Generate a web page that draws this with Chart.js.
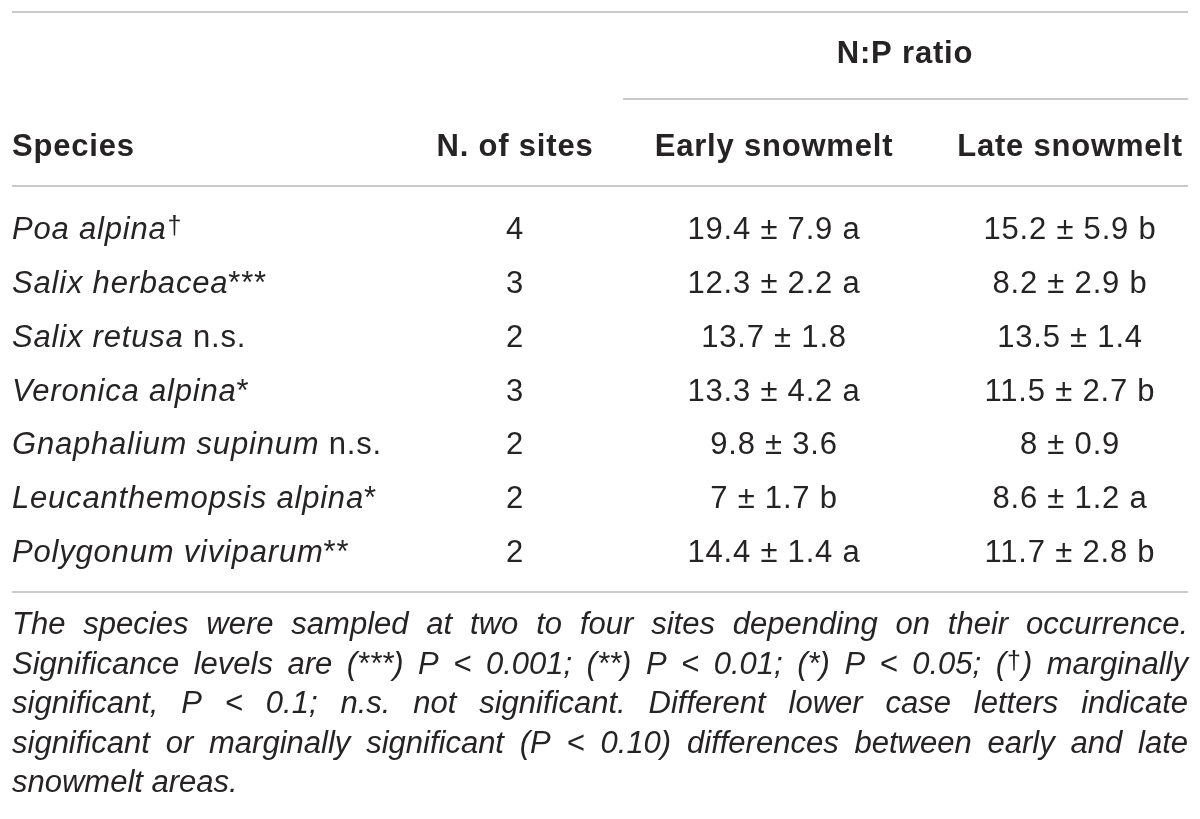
<!DOCTYPE html>
<html>
<head>
<meta charset="utf-8">
<script src="https://cdn.jsdelivr.net/npm/chart.js@4.4.0/dist/chart.umd.min.js"></script>
<style>
  html, body { margin: 0; padding: 0; background: #ffffff; }
  #wrap { width: 1200px; height: 819px; }
</style>
</head>
<body>
<div id="wrap"><canvas id="c" width="1200" height="819"></canvas></div>
<script>
// ---- data ----
const species = ['Poa alpina', 'Salix herbacea', 'Salix retusa', 'Veronica alpina', 'Gnaphalium supinum', 'Leucanthemopsis alpina', 'Polygonum viviparum'];
const significance = ['†', '***', 'n.s.', '*', 'n.s.', '*', '**'];
const nSites = [4, 3, 2, 3, 2, 2, 2];
const earlyMean = [19.4, 12.3, 13.7, 13.3, 9.8, 7, 14.4];
const earlySD = [7.9, 2.2, 1.8, 4.2, 3.6, 1.7, 1.4];
const earlyLetter = ['a', 'a', '', 'a', '', 'b', 'a'];
const lateMean = [15.2, 8.2, 13.5, 11.5, 8, 8.6, 11.7];
const lateSD = [5.9, 2.9, 1.4, 2.7, 0.9, 1.2, 2.8];
const lateLetter = ['b', 'b', '', 'b', '', 'a', 'b'];
const groupHeader = 'N:P ratio';
const columnHeaders = ['Species', 'N. of sites', 'Early snowmelt', 'Late snowmelt'];
const footnoteLines = [
  'The species were sampled at two to four sites depending on their occurrence.',
  'Significance levels are (***) P < 0.001; (**) P < 0.01; (*) P < 0.05; (†) marginally',
  'significant, P < 0.1; n.s. not significant. Different lower case letters indicate',
  'significant or marginally significant (P < 0.10) differences between early and late',
  'snowmelt areas.'
];

// ---- layout / style ----
const FONT = '"Liberation Sans", Arial, Helvetica, sans-serif';
const SIZE = 31;
const TEXT = '#262324';
const RULE = '#cacaca';
const L = 12, R = 1188;
const colX = { species: 12, sites: 515, early: 774, late: 1070, group: 905, groupRuleL: 623 };
const SUP_FONT = '25px ' + FONT;
const SUP_RAISE = 5;

function fmt(m, s, l) { return m + ' \u00B1 ' + s + (l ? ' ' + l : ''); }

function drawSupAware(ctx, word, x, y, baseFont, draw) {
  // draws word, rendering '†' as superscript; returns width
  let w = 0;
  for (const part of word.split(/(†)/)) {
    if (!part) continue;
    if (part === '†') {
      ctx.font = SUP_FONT;
      if (draw) ctx.fillText('†', x + w + 1, y - SUP_RAISE);
      w += ctx.measureText('†').width + 2;
    } else {
      ctx.font = baseFont;
      if (draw) ctx.fillText(part, x + w, y);
      w += ctx.measureText(part).width;
    }
  }
  return w;
}

const tablePlugin = {
  id: 'tablePlugin',
  afterDraw(chart) {
    const ctx = chart.ctx;
    const ys = chart.scales.y;
    const xs = chart.scales.x;
    const px = v => xs.getPixelForValue(v);
    ctx.save();
    // rules
    ctx.strokeStyle = RULE;
    ctx.lineWidth = 2;
    const hline = (x0, x1, y) => { ctx.beginPath(); ctx.moveTo(px(x0), y); ctx.lineTo(px(x1), y); ctx.stroke(); };
    const firstY = ys.getPixelForValue(0);
    const lastY = ys.getPixelForValue(species.length - 1);
    hline(L, R, 12);
    hline(colX.groupRuleL, R, 99);
    hline(L, R, firstY - 42);
    hline(L, R, lastY + 41);

    ctx.fillStyle = TEXT;
    ctx.textBaseline = 'alphabetic';
    ctx.letterSpacing = '0.8px';
    // headers
    ctx.font = 'bold ' + SIZE + 'px ' + FONT;
    ctx.textAlign = 'center';
    ctx.fillText(groupHeader, px(colX.group), 63);
    ctx.textAlign = 'left';
    ctx.fillText(columnHeaders[0], px(colX.species), 156);
    ctx.textAlign = 'center';
    ctx.fillText(columnHeaders[1], px(colX.sites), 156);
    ctx.fillText(columnHeaders[2], px(colX.early), 156);
    ctx.fillText(columnHeaders[3], px(colX.late), 156);

    // body rows
    species.forEach((name, i) => {
      const y = ys.getPixelForValue(i) + 11;
      ctx.textAlign = 'left';
      ctx.font = 'italic ' + SIZE + 'px ' + FONT;
      let x = px(colX.species);
      ctx.fillText(name, x, y);
      x += ctx.measureText(name).width;
      const sig = significance[i];
      if (sig === '†') {
        ctx.font = SUP_FONT;
        ctx.fillText('†', x + 1, y - SUP_RAISE);
      } else if (sig === 'n.s.') {
        ctx.font = SIZE + 'px ' + FONT;
        ctx.fillText(' n.s.', x, y);
      } else {
        ctx.font = SIZE + 'px ' + FONT;
        ctx.fillText(sig, x, y);
      }
      ctx.font = SIZE + 'px ' + FONT;
      ctx.textAlign = 'center';
      ctx.fillText(String(nSites[i]), px(colX.sites), y);
      ctx.fillText(fmt(earlyMean[i], earlySD[i], earlyLetter[i]), px(colX.early), y);
      ctx.fillText(fmt(lateMean[i], lateSD[i], lateLetter[i]), px(colX.late), y);
    });

    // footnote (justified italic)
    ctx.letterSpacing = '0px';
    ctx.textAlign = 'left';
    const fnFont = 'italic ' + SIZE + 'px ' + FONT;
    const width = px(R) - px(L);
    footnoteLines.forEach((line, li) => {
      const y = 634 + li * 39.5;
      const words = line.split(' ');
      const widths = words.map(w => drawSupAware(ctx, w, 0, 0, fnFont, false));
      const total = widths.reduce((a, b) => a + b, 0);
      const last = li === footnoteLines.length - 1;
      ctx.font = fnFont;
      const gap = last ? ctx.measureText(' ').width : (width - total) / (words.length - 1);
      let x = px(L);
      words.forEach((w, wi) => {
        drawSupAware(ctx, w, x, y, fnFont, true);
        x += widths[wi] + gap;
      });
    });
    ctx.restore();
  }
};

new Chart(document.getElementById('c'), {
  type: 'bar',
  data: { labels: species, datasets: [] },
  options: {
    indexAxis: 'y',
    responsive: false,
    animation: false,
    layout: { padding: { top: 201.2, bottom: 241.2, left: 0, right: 0 } },
    plugins: { legend: { display: false }, tooltip: { enabled: false }, title: { display: false } },
    scales: {
      x: { type: 'linear', min: 0, max: 1200, display: false },
      y: { type: 'category', offset: true, display: false }
    }
  },
  plugins: [tablePlugin]
});
</script>
</body>
</html>
